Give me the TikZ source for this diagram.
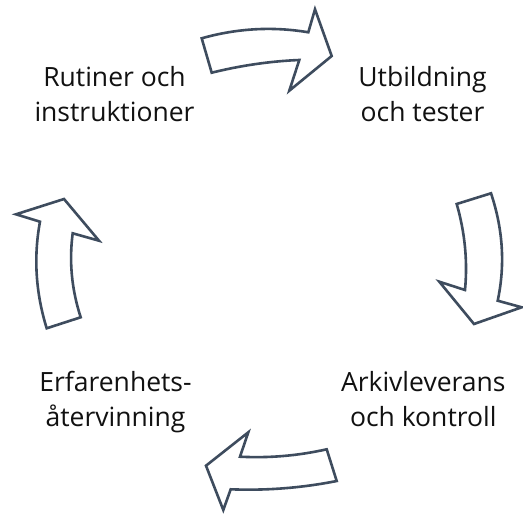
\documentclass[tikz,border=0pt]{standalone}
\usepackage{fontspec}
\setmainfont{Open Sans}
\definecolor{arrowline}{HTML}{3E4C5E}
\definecolor{labeltext}{HTML}{111111}
\begin{document}
\begin{tikzpicture}[x=1pt,y=-1pt,
  blockarrow/.style={draw=arrowline,line width=2.6pt,line join=miter,fill=white},
  label/.style={align=center,anchor=base,text=labeltext,font=\fontsize{26.5}{35}\selectfont,inner sep=0pt}]
\useasboundingbox[fill=white] (0,0) rectangle (523,516);
% top arrow (right)
\draw[blockarrow] (201.7,38.3) .. controls (237.2,28.3) and (272.8,26.3) .. (308.3,32.3)
  -- (315,9.3) -- (331.7,56) -- (289.3,90.7) -- (299.3,60)
  .. controls (270.1,61.2) and (240.9,65.5) .. (211.7,72.7) -- cycle;
% right arrow (down)
\draw[blockarrow] (456.7,204) -- (491,193.3)
  .. controls (503,229.1) and (505.3,264.9) .. (497.7,300.7)
  -- (521.7,307.3) -- (474,324) -- (439.3,281.7) -- (465,290)
  .. controls (467.7,261.3) and (465,232.7) .. (456.7,204) -- cycle;
% bottom arrow (left)
\draw[blockarrow] (326.7,449.3) .. controls (297.8,455.8) and (268.9,458.2) .. (240,456.7)
  -- (248.3,432.3) -- (206,465.7) -- (223.3,510) -- (230.7,489.3)
  .. controls (266,490.7) and (301.4,488) .. (336.7,481) -- cycle;
% left arrow (up)
\draw[blockarrow] (46.7,328.3) -- (80.7,317.3)
  .. controls (71.6,289.3) and (69,261.3) .. (72.7,233.3)
  -- (99,240.7) -- (64,199) -- (16,214.3) -- (40,221.7)
  .. controls (33.4,257.2) and (35.7,292.8) .. (46.7,328.3) -- cycle;
% labels (anchor = baseline of last line)
\node[label] (rutiner) at (114.5,121.7) {Rutiner och\\instruktioner};
\node[label] (utbildning) at (422.5,121.7) {Utbildning\\och tester};
\node[label] (arkiv) at (423.3,426.7) {Arkivleverans\\och kontroll};
\node[label] (erfarenhet) at (115.5,426.7) {Erfarenhets-\\återvinning};
\end{tikzpicture}
\end{document}
